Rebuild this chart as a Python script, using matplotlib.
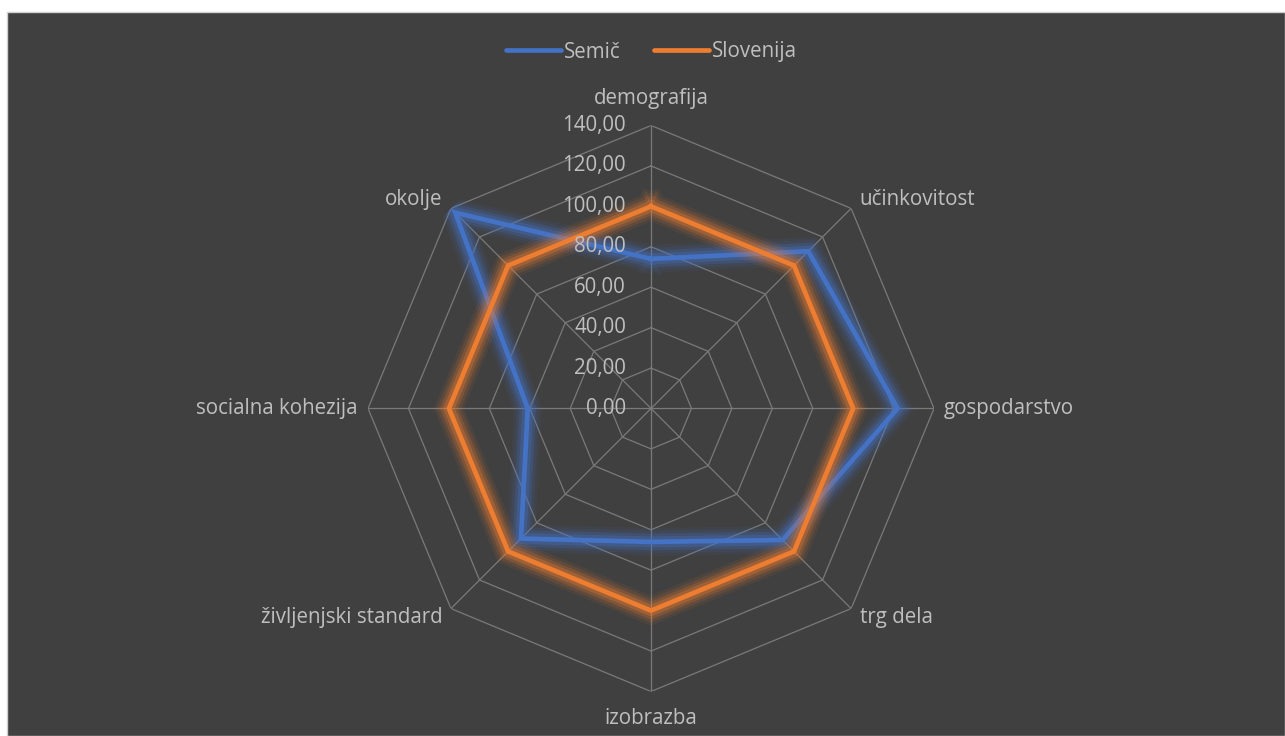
import numpy as np
import matplotlib.pyplot as plt
import matplotlib.patheffects as pe
from matplotlib.patches import Rectangle

plt.rcParams['font.family'] = ['Open Sans', 'DejaVu Sans']

categories = ['demografija', 'učinkovitost', 'gospodarstvo', 'trg dela',
              'izobrazba', 'življenjski standard', 'socialna kohezija', 'okolje']
semic = [74, 110, 122, 92, 66, 91, 61, 137]
slovenija = [100, 100, 100, 100, 100, 100, 100, 100]
ring_values = [20, 40, 60, 80, 100, 120, 140]
tick_values = [0, 20, 40, 60, 80, 100, 120, 140]

bg = '#404040'
text_col = '#bfbfbf'
grid_col = '#7a7a7a'
blue = '#4472C4'
orange = '#ED7D31'
fs = 14.8

fig = plt.figure(figsize=(12.85, 7.36), dpi=100)
fig.patch.set_facecolor('white')
fig.patches.append(Rectangle((7 / 1285, 0), 1 - 7 / 1285, 1 - 12 / 736,
                             transform=fig.transFigure, facecolor=bg,
                             edgecolor='#d0d0d0', linewidth=1, zorder=-10))

ax = fig.add_axes([0.2864, 0.0605, 0.4405, 0.769], projection='polar')
ax.set_facecolor('none')
ax.set_theta_zero_location('N')
ax.set_theta_direction(-1)
ax.set_ylim(0, 140)
ax.grid(False)
ax.spines['polar'].set_visible(False)
ax.set_xticks([])
ax.set_yticks([])

n = len(categories)
theta = np.arange(n) * 2 * np.pi / n
theta_closed = np.append(theta, theta[0])

# octagonal grid
for v in ring_values:
    ax.plot(theta_closed, [v] * (n + 1), color=grid_col, lw=0.9, zorder=1)
for t in theta:
    ax.plot([t, t], [0, 140], color=grid_col, lw=0.9, zorder=1)


def glow(color):
    return [pe.Stroke(linewidth=20, foreground=color, alpha=0.08),
            pe.Stroke(linewidth=16, foreground=color, alpha=0.12),
            pe.Stroke(linewidth=12, foreground=color, alpha=0.2),
            pe.Stroke(linewidth=8, foreground=color, alpha=0.3),
            pe.Normal()]


ax.plot(theta_closed, semic + semic[:1], color=blue, lw=3.4, label='Semič',
        solid_joinstyle='miter', path_effects=glow(blue), zorder=3)
ax.plot(theta_closed, slovenija + slovenija[:1], color=orange, lw=3.4,
        label='Slovenija', solid_joinstyle='miter', path_effects=glow(orange), zorder=4)

# value labels along the top spoke
for v in tick_values:
    ax.annotate(f'{v},00', xy=(0, v), xytext=(-18, 0),
                textcoords='offset points', ha='right', va='center',
                color=text_col, fontsize=fs, zorder=5)

# category labels
for t, name in zip(theta, categories):
    deg = np.degrees(t) % 360
    if deg == 0:
        ax.text(t, 148, name, ha='center', va='bottom', color=text_col, fontsize=fs)
    elif deg == 180:
        ax.text(t, 148, name, ha='center', va='top', color=text_col, fontsize=fs)
    elif deg == 90:
        ax.text(t, 145, name, ha='left', va='center', color=text_col, fontsize=fs)
    elif deg == 270:
        ax.text(t, 145, name, ha='right', va='center', color=text_col, fontsize=fs)
    elif deg < 180:
        ax.text(t, 146, name, ha='left', va='center', color=text_col, fontsize=fs)
    else:
        ax.text(t, 146, name, ha='right', va='center', color=text_col, fontsize=fs)

leg = fig.legend(loc='center', bbox_to_anchor=(0.507, 1 - 52 / 736), ncol=2,
                 frameon=False, fontsize=fs, handlelength=2.7,
                 handletextpad=0.15, columnspacing=1.6)
for txt in leg.get_texts():
    txt.set_color(text_col)
for line in leg.get_lines():
    line.set_path_effects([])
    line.set_linewidth(3.4)
    line.set_solid_capstyle('round')

fig.savefig('out.png', dpi=100, facecolor=fig.get_facecolor())
